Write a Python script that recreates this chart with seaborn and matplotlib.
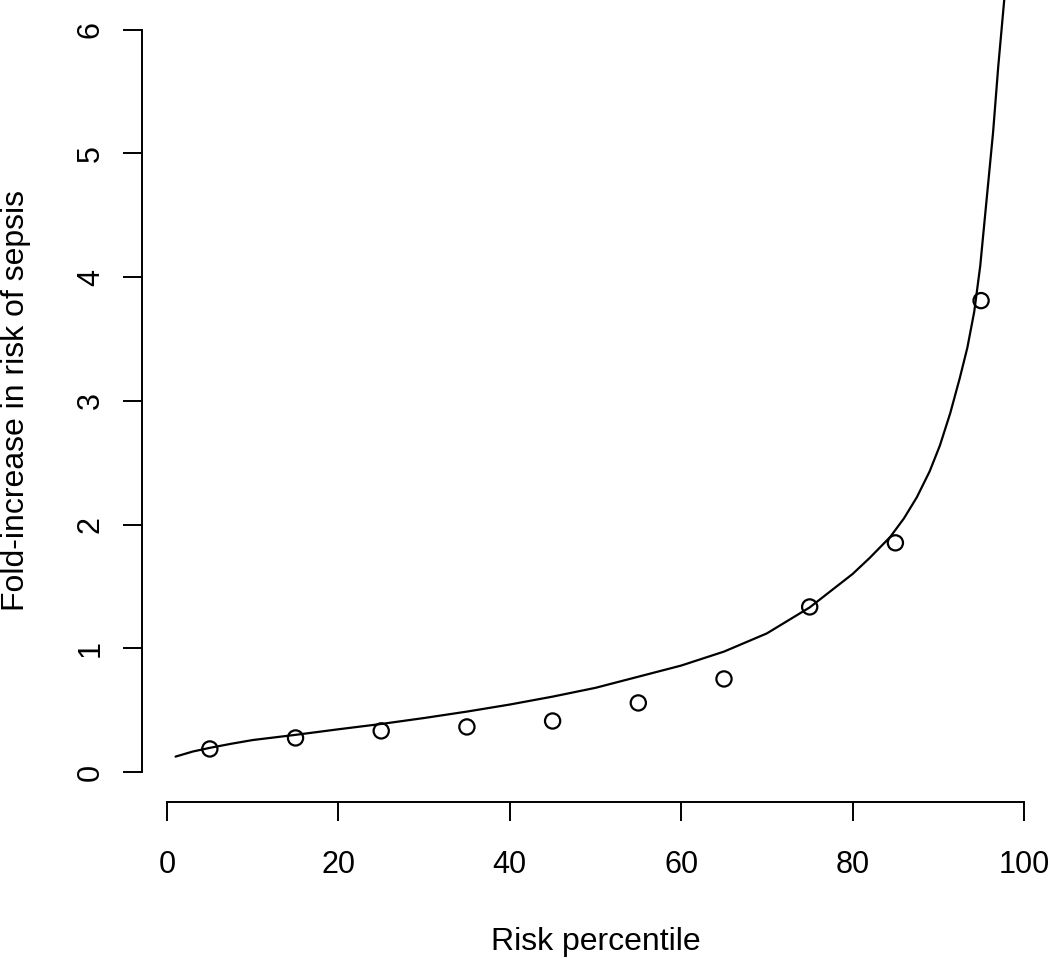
import matplotlib
matplotlib.use("Agg")
import matplotlib.pyplot as plt
import numpy as np
import pandas as pd
import seaborn as sns

# observed fold-increase per risk decile
decile_mid = [5, 15, 25, 35, 45, 55, 65, 75, 85, 95]
observed = [0.186, 0.275, 0.332, 0.364, 0.412, 0.558, 0.752, 1.334, 1.852, 3.81]

# fitted curve
curve_x = [1, 3, 5, 7.5, 10, 15, 20, 25, 30, 35, 40, 45, 50, 55, 60, 65, 70,
           75, 80, 82, 84.4, 86, 87.5, 89, 90.2, 91.4, 92.5, 93.4, 94.2, 94.9,
           95.65, 96.4, 97.0, 97.7, 98.3]
curve_y = [0.124, 0.165, 0.195, 0.228, 0.258, 0.30, 0.345, 0.388, 0.436, 0.488,
           0.545, 0.609, 0.68, 0.77, 0.86, 0.973, 1.12, 1.33, 1.60, 1.73, 1.90,
           2.05, 2.22, 2.43, 2.64, 2.90, 3.18, 3.43, 3.72, 4.09, 4.63, 5.17,
           5.70, 6.24, 6.9]

x_ticks = [0, 20, 40, 60, 80, 100]
y_ticks = [0, 1, 2, 3, 4, 5, 6]

sns.set_style("ticks")
plt.rcParams['font.family'] = ['Liberation Sans', 'DejaVu Sans']

fig = plt.figure(figsize=(10.5, 9.58), dpi=100)
ax = fig.add_axes([0.1352, 0.1632, 0.8638, 0.8368])

pts = pd.DataFrame({'x': decile_mid, 'y': observed})
fit = pd.DataFrame({'x': curve_x, 'y': curve_y})

sns.lineplot(data=fit, x='x', y='y', ax=ax, color='black', linewidth=1.6,
             sort=False, estimator=None)
sns.scatterplot(data=pts, x='x', y='y', ax=ax, marker='o', s=120,
                facecolor='none', edgecolor='black', linewidth=1.6, zorder=3)

ax.set_xlim(-2.92, 102.92)
ax.set_ylim(-0.24, 6.24)
ax.set_xticks(x_ticks)
ax.set_yticks(y_ticks)
ax.set_xticklabels([str(t) for t in x_ticks])
ax.set_yticklabels([str(t) for t in y_ticks], rotation=90, va='center')

for side in ['top', 'right']:
    ax.spines[side].set_visible(False)
ax.spines['bottom'].set_bounds(0, 100)
ax.spines['left'].set_bounds(0, 6)
for side in ['bottom', 'left']:
    ax.spines[side].set_linewidth(1.4)
    ax.spines[side].set_color('black')

ax.tick_params(axis='both', length=14, width=1.4, color='black',
               labelsize=22, labelcolor='black')
ax.tick_params(axis='x', pad=21)
ax.tick_params(axis='y', pad=12)

ax.set_xlabel('Risk percentile', fontsize=23, color='black')
ax.set_ylabel('Fold-increase in risk of sepsis', fontsize=23, color='black')
ax.xaxis.label.set_va('baseline')
ax.xaxis.set_label_coords(0.5, -0.185)
ax.yaxis.label.set_rotation_mode('anchor')
ax.yaxis.label.set_va('baseline')
ax.yaxis.set_label_coords(-0.130, 0.5)

fig.savefig('out.png', dpi=100, facecolor='white')
